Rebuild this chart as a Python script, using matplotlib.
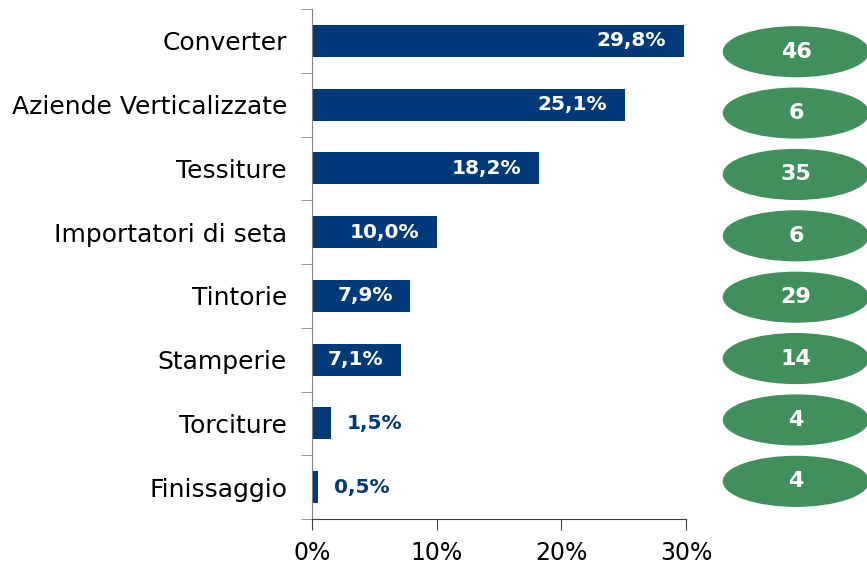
import matplotlib.pyplot as plt
from matplotlib.patches import Ellipse
from matplotlib.ticker import FuncFormatter

categories = ['Converter', 'Aziende Verticalizzate', 'Tessiture', 'Importatori di seta',
              'Tintorie', 'Stamperie', 'Torciture', 'Finissaggio']
shares = [29.8, 25.1, 18.2, 10.0, 7.9, 7.1, 1.5, 0.5]
counts = [46, 6, 35, 6, 29, 14, 4, 4]
x_ticks = [0, 10, 20, 30]

NAVY = '#003A7A'
GREEN = '#3F905C'

plt.rcParams['font.family'] = ['DejaVu Sans']

fig = plt.figure(figsize=(8.67, 5.67), dpi=100)
ax = fig.add_axes([312 / 867, 48 / 567, (686 - 312) / 867, 510 / 567])

y = list(range(len(categories)))
ax.barh(y, shares, height=0.5, color=NAVY)
ax.set_ylim(len(categories) - 0.5, -0.5)
ax.set_xlim(0, 30)

# etichette valori: dentro la barra se c'e' spazio, altrimenti fuori
for i, v in enumerate(shares):
    txt = f'{v:.1f}%'.replace('.', ',')
    if v > 5:
        ax.text(v - 1.4, i, txt, ha='right', va='center', color='white',
                fontsize=14.5, fontweight='bold')
    else:
        ax.text(v + 1.3, i, txt, ha='left', va='center', color=NAVY,
                fontsize=14.5, fontweight='bold')

ax.set_yticks(y)
ax.set_yticklabels(categories, fontsize=18)
ax.set_yticks([i + 0.5 for i in range(-1, len(categories))], minor=True)
ax.tick_params(axis='y', which='major', length=0, pad=18)
ax.tick_params(axis='y', which='minor', length=8, color='#808080', direction='out')

ax.set_xticks(x_ticks)
ax.xaxis.set_major_formatter(FuncFormatter(lambda v, p: f'{v:.0f}%'))
ax.tick_params(axis='x', length=8, color='#404040', labelsize=17, pad=8)

for s in ['top', 'right']:
    ax.spines[s].set_visible(False)
ax.spines['left'].set_color('#808080')
ax.spines['bottom'].set_color('#404040')

# ellissi verdi con il numero di aziende
ax2 = fig.add_axes([722 / 867, 55 / 567, 148 / 867, 491 / 567])
ax2.set_xlim(0, 1)
ax2.set_ylim(len(categories) - 0.5, -0.5)
ax2.axis('off')
for i, c in enumerate(counts):
    ax2.add_patch(Ellipse((0.5, i), 0.98, 0.81, color=GREEN, clip_on=False))
    ax2.text(0.5, i, str(c), ha='center', va='center', color='white',
             fontsize=16, fontweight='bold')

fig.savefig('out.png', dpi=100)
